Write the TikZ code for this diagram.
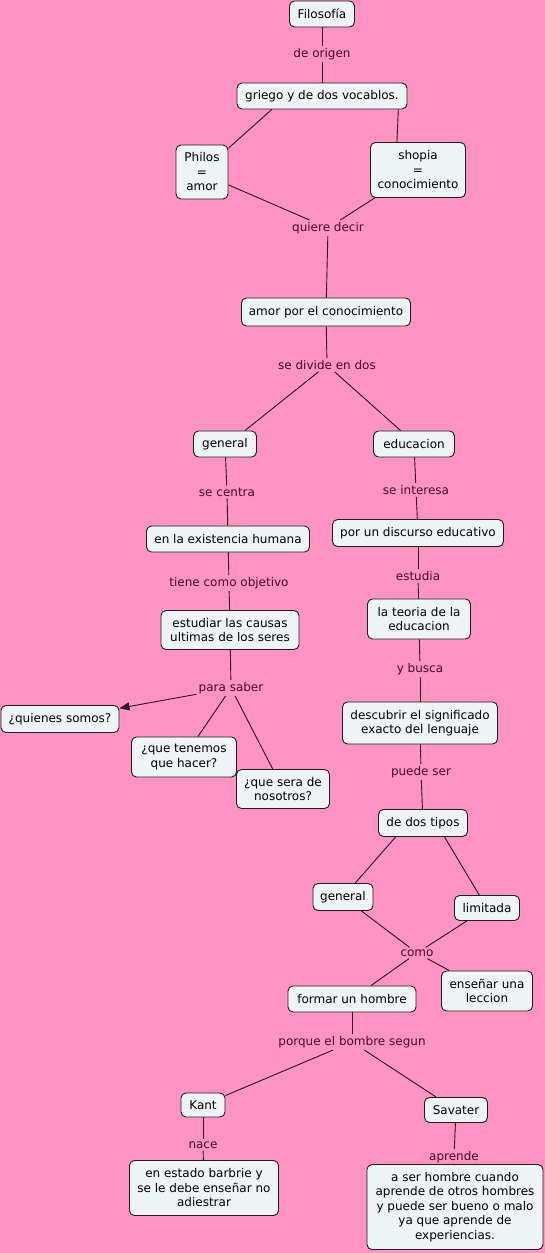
\documentclass[tikz,border=0pt]{standalone}
\usepackage{fontspec}
\setmainfont{DejaVu Sans}
\usetikzlibrary{arrows.meta}
\definecolor{bgpink}{RGB}{255,148,196}
\definecolor{boxfill}{RGB}{238,243,245}
\definecolor{boxline}{RGB}{30,30,30}
\definecolor{lbltext}{RGB}{70,10,40}
\definecolor{conn}{RGB}{40,20,30}
\tikzset{
  cbox/.style={draw=boxline, fill=boxfill, rounded corners=5pt, line width=0.9pt,
    align=center, inner sep=0pt, font=\fontsize{12}{14.5}\selectfont, text=black},
  lbl/.style={inner sep=2pt, text=lbltext, font=\fontsize{12}{14.5}\selectfont},
  link/.style={draw=conn, line width=0.9pt},
}
\begin{document}
\begin{tikzpicture}[x=1pt,y=-1pt]
\useasboundingbox (0,0) rectangle (545,1253);
\fill[bgpink] (0,0) rectangle (545,1253);

\node[cbox, minimum width=65pt, minimum height=26pt] (filo) at (322,14) {Filosofía};
\node[lbl] (deorigen) at (322,54) {de origen};
\node[cbox, minimum width=170pt, minimum height=26pt] (griego) at (322,96) {griego y de dos vocablos.};
\node[cbox, minimum width=52pt, minimum height=54pt] (philos) at (202,172) {Philos\\=\\amor};
\node[cbox, minimum width=95pt, minimum height=55pt] (shopia) at (418,170) {shopia\\=\\conocimiento};
\node[lbl] (quiere) at (328,228) {quiere decir};
\node[cbox, minimum width=169pt, minimum height=28pt] (amor) at (326,312) {amor por el conocimiento};
\node[lbl] (divide) at (327,365) {se divide en dos};
\node[cbox, minimum width=63pt, minimum height=26pt] (general) at (225,444) {general};
\node[cbox, minimum width=81pt, minimum height=26pt] (educ) at (414,444) {educacion};
\node[lbl] (centra) at (227,492) {se centra};
\node[lbl] (interesa) at (416,490) {se interesa};
\node[cbox, minimum width=163pt, minimum height=26pt] (exist) at (228,539) {en la existencia humana};
\node[cbox, minimum width=171pt, minimum height=27pt] (discurso) at (418,533) {por un discurso educativo};
\node[lbl] (objetivo) at (229,583) {tiene como objetivo};
\node[lbl] (estudia) at (418,576) {estudia};
\node[cbox, minimum width=138pt, minimum height=39pt] (causas) at (230,630) {estudiar las causas\\ultimas de los seres};
\node[cbox, minimum width=103pt, minimum height=40pt] (teoria) at (419,619) {la teoria de la\\educacion};
\node[lbl] (saber) at (231,688) {para saber};
\node[lbl] (busca) at (420,669) {y busca};
\node[cbox, minimum width=118pt, minimum height=27pt] (quienes) at (60,719) {¿quienes somos?};
\node[cbox, minimum width=105pt, minimum height=40pt] (tenemos) at (184,757) {¿que tenemos\\que hacer?};
\node[cbox, minimum width=93pt, minimum height=39pt] (sera) at (283,789) {¿que sera de\\nosotros?};
\node[cbox, minimum width=155pt, minimum height=42pt] (descubrir) at (420,723) {descubrir el significado\\exacto del lenguaje};
\node[lbl] (puede) at (421,772) {puede ser};
\node[cbox, minimum width=89pt, minimum height=27pt] (tipos) at (423,823) {de dos tipos};
\node[cbox, minimum width=60pt, minimum height=27pt] (general2) at (343,897) {general};
\node[cbox, minimum width=65pt, minimum height=25pt] (limitada) at (487,908) {limitada};
\node[lbl] (como) at (417,953) {como};
\node[cbox, minimum width=128pt, minimum height=26pt] (formar) at (352,999) {formar un hombre};
\node[cbox, minimum width=91pt, minimum height=40pt] (ensenar) at (487,991) {enseñar una\\leccion};
\node[lbl] (porque) at (352,1042) {porque el bombre segun};
\node[cbox, minimum width=44pt, minimum height=24pt] (kant) at (203,1105) {Kant};
\node[cbox, minimum width=63pt, minimum height=25pt] (savater) at (456,1110) {Savater};
\node[lbl] (nace) at (203,1145) {nace};
\node[lbl] (aprende) at (454,1157) {aprende};
\node[cbox, minimum width=149pt, minimum height=55pt] (barbrie) at (204,1188) {en estado barbrie y\\se le debe enseñar no\\adiestrar};
\node[cbox, minimum width=176pt, minimum height=85pt] (aser) at (455,1207) {a ser hombre cuando\\aprende de otros hombres\\y puede ser bueno o malo\\ya que aprende de\\experiencias.};

\path[link] (filo) -- (deorigen);
\path[link] (deorigen) -- (griego);
\path[link] (griego.195) -- (philos.42);
\path[link] (griego.-10) -- (shopia.127);
\path[link] (philos.-26) -- (quiere);
\path[link] (shopia) -- (quiere);
\path[link] (quiere) -- (amor);
\path[link] (amor) -- (divide);
\path[link] (divide) -- (general.34);
\path[link] (divide) -- (educ.135);
\path[link] (general) -- (centra);
\path[link] (centra) -- (exist);
\path[link] (educ) -- (interesa);
\path[link] (interesa) -- (discurso);
\path[link] (exist) -- (objetivo);
\path[link] (objetivo) -- (causas);
\path[link] (discurso) -- (estudia);
\path[link] (estudia) -- (teoria);
\path[link] (causas) -- (saber);
\path[link, -{Triangle[length=10pt,width=8pt]}] (saber) -- (quienes);
\path[link] (saber) -- (tenemos);
\path[link] (saber) -- (sera);
\path[link] (teoria) -- (busca);
\path[link] (busca) -- (descubrir);
\path[link] (descubrir) -- (puede);
\path[link] (puede) -- (tipos);
\path[link] (tipos.207) -- (general2);
\path[link] (tipos.-33) -- (limitada);
\path[link] (general2) -- (como);
\path[link] (limitada) -- (como);
\path[link] (como) -- (formar);
\path[link] (como) -- (ensenar);
\path[link] (formar) -- (porque);
\path[link] (porque) -- (kant);
\path[link] (porque) -- (savater);
\path[link] (kant) -- (nace);
\path[link] (nace) -- (barbrie);
\path[link] (savater) -- (aprende);
\path[link] (aprende) -- (aser);
\end{tikzpicture}
\end{document}
